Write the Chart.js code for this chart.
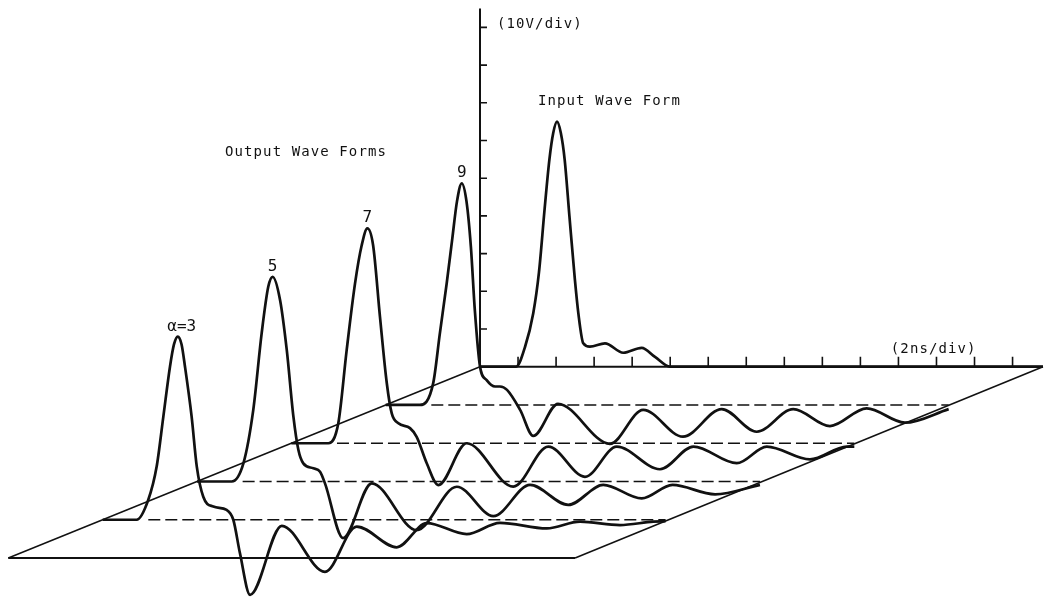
<!DOCTYPE html>
<html>
<head>
<meta charset="utf-8">
<script src="https://cdn.jsdelivr.net/npm/chart.js@4.4.1/dist/chart.umd.min.js"></script>
<style>
  html, body { margin: 0; padding: 0; background: #fff; }
  #wrap { width: 1044px; height: 597px; }
</style>
</head>
<body>
<div id="wrap"><canvas id="ondas" width="1044" height="597"></canvas></div>
<script>
/* ==============================================
   DADOS (tempo em ns, tensão em V)
   ============================================== */
const inputTime = [0, 1.9, 2.37, 2.8, 3.1, 3.4, 3.65, 3.85, 4.05, 4.25, 4.45, 4.7, 4.99, 5.17, 5.43, 5.78, 6.57, 7.53, 8.5, 9.2, 9.99, 29.6];
const inputVolt = [0, 0, 5.3, 14.2, 25.0, 42.0, 55.0, 62.0, 65.0, 62.0, 55.0, 40.0, 23.0, 14.2, 6.2, 5.3, 6.2, 3.7, 5.0, 2.6, 0, 0];

const alpha9Time = [0, 1.8, 2.5, 2.85, 3.21, 3.5, 3.75, 4.0, 4.25, 4.48, 4.69, 4.96, 5.31, 5.75, 6.01, 6.38, 7.07, 7.76, 9.06, 11.79, 13.54, 15.63, 17.67, 19.51, 21.43, 23.36, 25.29, 27.3, 29.6];
const alpha9Volt = [0, 0, 5.8, 19.0, 32.3, 44.0, 54.0, 58.8, 54.0, 42.0, 25.0, 10.2, 6.6, 4.9, 4.9, 4.0, -1.3, -8.2, 0.3, -10.3, -1.3, -8.4, -1.1, -7.1, -1.1, -5.6, -0.9, -4.7, -1.1];

const alpha7Time = [0, 1.95, 2.47, 2.91, 3.35, 3.7, 4.0, 4.3, 4.66, 5.02, 5.28, 5.63, 6.24, 6.59, 7.12, 7.73, 9.22, 11.67, 13.51, 15.44, 17.11, 19.38, 21.14, 23.42, 25.0, 27.27, 29.2, 29.6];
const alpha7Volt = [0, 0, 5.3, 24.7, 42.4, 52.5, 57.0, 52.5, 33.6, 15.9, 7.9, 5.3, 4.0, 1.7, -5.3, -11.1, 0, -11.5, -0.9, -8.9, -0.9, -6.9, -0.9, -5.3, -0.9, -4.3, -0.9, -0.9];

const alpha5Time = [0, 1.83, 2.44, 2.96, 3.4, 3.75, 3.98, 4.37, 4.72, 5.07, 5.33, 5.59, 6.12, 6.47, 6.73, 7.68, 9.19, 11.55, 13.66, 15.58, 17.51, 19.52, 21.36, 23.38, 25.0, 27.24, 29.6];
const alpha5Volt = [0, 0, 4.8, 19.0, 39.3, 51.7, 54.3, 48.1, 34.9, 17.2, 8.4, 4.8, 3.5, 2.6, -0.5, -15.0, -0.5, -12.9, -1.4, -9.2, -0.9, -6.2, -0.9, -4.5, -0.9, -3.4, -0.9];

const alpha3Time = [0, 1.79, 2.4, 2.84, 3.19, 3.54, 3.75, 3.95, 4.15, 4.33, 4.68, 4.95, 5.29, 5.82, 6.52, 6.87, 7.22, 7.75, 9.42, 11.69, 13.36, 15.46, 17.04, 19.14, 20.89, 23.35, 25.1, 27.2, 28.95, 29.6];
const alpha3Volt = [0, 0, 5.3, 14.1, 27.3, 40.6, 46.5, 48.6, 46.5, 40.6, 27.3, 14.1, 6.1, 3.5, 2.6, 0, -8.9, -19.9, -1.6, -13.8, -1.8, -7.3, -0.9, -3.8, -0.8, -2.3, -0.5, -1.4, -0.5, -0.4];

const outputLabels = ['α=3', '5', '7', '9'];
const timeTicks = [2, 4, 6, 8, 10, 12, 14, 16, 18, 20, 22, 24, 26, 28];
const voltTicks = [10, 20, 30, 40, 50, 60, 70, 80, 90];
const timeSpan = 29.6;      // comprimento do eixo de tempo (ns)
const voltTop = 95;         // topo do eixo de tensão (V)
const dashStart = 2.4;      // início das linhas tracejadas (ns)

/* ==============================================
   PROJEÇÃO OBLÍQUA (cada fileira recua 4.96 ns / 10.15 V)
   ============================================== */
const DEPTH_DT = 4.96;
const DEPTH_DV = 10.15;
const PX_NS = 19.02, PX_V = 3.77, ORIGEM_X = 480, ORIGEM_Y = 366.7;

function projetar(t, v, fileira) {
    return { x: t + fileira * DEPTH_DT, y: v + fileira * DEPTH_DV };
}

function serie(tempos, tensoes, fileira) {
    return tempos.map((t, i) => projetar(t, tensoes[i], fileira));
}

const ondas = [
    { tempo: alpha3Time, volt: alpha3Volt, fileira: -4 },
    { tempo: alpha5Time, volt: alpha5Volt, fileira: -3 },
    { tempo: alpha7Time, volt: alpha7Volt, fileira: -2 },
    { tempo: alpha9Time, volt: alpha9Volt, fileira: -1 }
];

const PRETO = '#111';
const estiloOnda = {
    borderColor: PRETO, borderWidth: 2.7, pointRadius: 0, showLine: true,
    fill: false, cubicInterpolationMode: 'monotone'
};
const estiloReta = { borderColor: PRETO, pointRadius: 0, showLine: true, fill: false, tension: 0 };

const datasets = [];

// piso em paralelogramo
datasets.push({ ...estiloReta, borderWidth: 1.5,
    data: [projetar(0, 0, 0), projetar(0, 0, -5)] });
datasets.push({ ...estiloReta, borderWidth: 2,
    data: [projetar(0, 0, -5), projetar(timeSpan + 0.2, 0, -5)] });
datasets.push({ ...estiloReta, borderWidth: 1.5,
    data: [projetar(timeSpan + 0.2, 0, -5), projetar(timeSpan, 0, 0)] });

// eixos
datasets.push({ ...estiloReta, borderWidth: 2,
    data: [projetar(0, 0, 0), projetar(timeSpan, 0, 0)] });
datasets.push({ ...estiloReta, borderWidth: 2,
    data: [projetar(0, 0, 0), projetar(0, voltTop, 0)] });

// linhas de base tracejadas
ondas.forEach(o => {
    datasets.push({ ...estiloReta, borderWidth: 1.4, borderDash: [12, 5],
        data: [projetar(dashStart, 0, o.fileira), projetar(timeSpan, 0, o.fileira)] });
});

// formas de onda de saída e de entrada
ondas.forEach(o => {
    datasets.push({ ...estiloOnda, data: serie(o.tempo, o.volt, o.fileira) });
});
datasets.push({ ...estiloOnda, data: serie(inputTime, inputVolt, 0) });

/* ==============================================
   TICKS E TEXTOS
   ============================================== */
const pluginTextos = {
    id: 'textos',
    afterDatasetsDraw(chart) {
        const ctx = chart.ctx;
        const sx = chart.scales.x, sy = chart.scales.y;
        const x0 = sx.getPixelForValue(0), y0 = sy.getPixelForValue(0);
        ctx.save();
        ctx.strokeStyle = PRETO;
        ctx.lineWidth = 1.6;
        ctx.beginPath();
        timeTicks.forEach(t => {
            const px = sx.getPixelForValue(t);
            ctx.moveTo(px, y0); ctx.lineTo(px, y0 - 10);
        });
        voltTicks.forEach(v => {
            const py = sy.getPixelForValue(v);
            ctx.moveTo(x0, py); ctx.lineTo(x0 + 7, py);
        });
        ctx.stroke();

        ctx.fillStyle = PRETO;
        ctx.textBaseline = 'alphabetic';
        ctx.font = '14px "DejaVu Sans Mono"';
        if ('letterSpacing' in ctx) ctx.letterSpacing = '1.1px';
        ctx.textAlign = 'left';
        ctx.fillText('(10V/div)', x0 + 17, sy.getPixelForValue(voltTop) + 19);
        ctx.fillText('Input Wave Form', 538, 105);
        ctx.fillText('Output Wave Forms', 225, 155.5);
        ctx.fillText('(2ns/div)', sx.getPixelForValue(21.6), y0 - 14);

        // rótulos de alfa sobre cada pico
        ctx.font = '16px "DejaVu Sans Mono"';
        if ('letterSpacing' in ctx) ctx.letterSpacing = '0px';
        ctx.textAlign = 'center';
        ondas.forEach((o, i) => {
            const vmax = Math.max(...o.volt);
            const tmax = o.tempo[o.volt.indexOf(vmax)];
            const p = projetar(tmax, vmax, o.fileira);
            const desvio = i === 0 ? 4 : 0;
            ctx.fillText(outputLabels[i], sx.getPixelForValue(p.x) + desvio, sy.getPixelForValue(p.y) - 6);
        });
        ctx.restore();
    }
};

/* ==============================================
   GRÁFICO
   ============================================== */
const ctxOndas = document.getElementById('ondas').getContext('2d');
new Chart(ctxOndas, {
    type: 'scatter',
    data: { datasets },
    options: {
        responsive: false,
        animation: false,
        layout: { padding: 0 },
        plugins: { legend: { display: false }, tooltip: { enabled: false } },
        events: [],
        scales: {
            x: { type: 'linear', display: false,
                 min: -ORIGEM_X / PX_NS, max: (1044 - ORIGEM_X) / PX_NS },
            y: { type: 'linear', display: false,
                 min: -(597 - ORIGEM_Y) / PX_V, max: ORIGEM_Y / PX_V }
        }
    },
    plugins: [pluginTextos]
});
</script>
</body>
</html>
